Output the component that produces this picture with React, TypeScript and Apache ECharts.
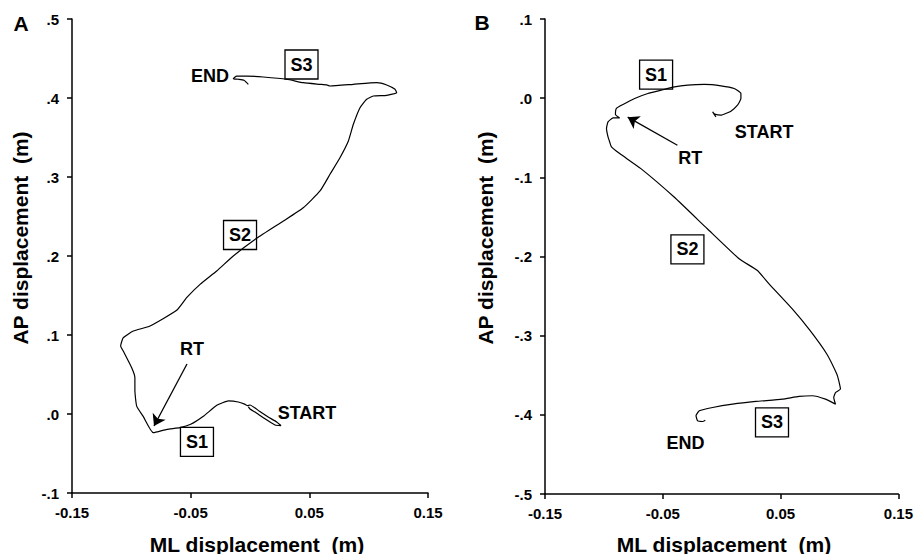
import { useEffect, useRef } from "react";
import * as echarts from "echarts";

// ---- Tick labels ----
const xTickValues = [-0.15, -0.05, 0.05, 0.15];

// ---- Panel A trajectory (ML, AP displacement in m) ----
const aML = [
  -0.0014, 0.0, 0.0042, 0.012, 0.0211, 0.0261, 0.0225, 0.015, 0.008, 0.0, -0.002, -0.0045, -0.0099,
  -0.018, -0.028, -0.039, -0.05, -0.059, -0.07, -0.0815, -0.09, -0.0955, -0.097, -0.097, -0.0997,
  -0.1068, -0.109, -0.1068, -0.0983, -0.0843, -0.0618, -0.0534, -0.0421, -0.0281, -0.0141, 0.0056,
  0.0281, 0.0449, 0.059, 0.0674, 0.0758, 0.0829, 0.0871, 0.0927, 0.0983, 0.1039, 0.1152, 0.1236,
  0.1222, 0.1152, 0.1068, 0.087, 0.0674, 0.0646, 0.059, 0.0449, 0.0309, 0.0112, -0.0028, -0.0112,
  -0.0141, -0.0099, -0.0051, -0.0014,
];
const aAP = [
  0.0089, 0.0063, 0.0025, -0.0055, -0.0139, -0.0146, -0.0101, -0.0035, 0.0035, 0.0114, 0.0105, 0.0125,
  0.0152, 0.0165, 0.011, -0.0025, -0.013, -0.0173, -0.0194, -0.0237, -0.003, 0.01, 0.03, 0.046,
  0.0586, 0.0797, 0.0861, 0.0966, 0.105, 0.1114, 0.1313, 0.1472, 0.1641, 0.181, 0.2, 0.2224,
  0.2443, 0.2611, 0.2823, 0.3034, 0.3244, 0.3456, 0.3667, 0.3877, 0.3984, 0.4025, 0.4034, 0.4068,
  0.411, 0.4165, 0.4194, 0.4173, 0.4152, 0.4165, 0.4173, 0.4194, 0.4237, 0.4266, 0.4278, 0.4278,
  0.4245, 0.4237, 0.4224, 0.4173,
];

// ---- Panel B trajectory ----
const bML = [
  -0.0049, -0.0077, -0.006, -0.0006, 0.004, 0.0078, 0.0134, 0.0163, 0.0163, 0.0106, -0.0006, -0.0147,
  -0.0289, -0.0401, -0.0514, -0.0627, -0.0739, -0.0838, -0.0894, -0.0902, -0.0866, -0.0922, -0.0965,
  -0.0978, -0.0965, -0.0951, -0.0936, -0.0866, -0.0686, -0.0404, -0.0122, 0.0148, 0.0303, 0.0402,
  0.0599, 0.0751, 0.0892, 0.0977, 0.0994, 0.1008, 0.0966, 0.0951, 0.0966, 0.0881, 0.0768,
  0.0656, 0.0514, 0.029, 0.0092, -0.0077, -0.019, -0.0218, -0.0204, -0.0162, -0.0139,
];
const bAP = [
  -0.0237, -0.0173, -0.02, -0.0215, -0.019, -0.0165, -0.0089, -0.0004, 0.0059, 0.0122, 0.0156, 0.0173,
  0.0165, 0.0143, 0.0101, 0.0059, -0.0004, -0.008, -0.013, -0.0206, -0.0249, -0.0249, -0.03,
  -0.0384, -0.049, -0.0553, -0.0616, -0.07, -0.089, -0.1249, -0.165, -0.2029, -0.2177, -0.2346,
  -0.2662, -0.2937, -0.3232, -0.3485, -0.357, -0.3675, -0.3718, -0.3781, -0.3865, -0.3802, -0.3759,
  -0.3768, -0.3802, -0.3831, -0.3865, -0.3907, -0.3949, -0.4013, -0.4076, -0.4084, -0.4068,
];

// ---- Annotations (data coordinates) ----
const aNoteText = ["END", "S3", "S2", "RT", "START", "S1"];
const aNoteML = [-0.0337, 0.0434, -0.0084, -0.0489, 0.048, -0.0447];
const aNoteAP = [0.4278, 0.4424, 0.2266, 0.0823, 0.0013, -0.0354];
const aNoteBoxed = [false, true, true, false, false, true];
const aArrow = [[-0.0531, 0.0633], [-0.0809, -0.0152]];

const bNoteText = ["S1", "START", "RT", "S2", "S3", "END"];
const bNoteML = [-0.0557, 0.036, -0.0266, -0.0291, 0.0427, -0.0308];
const bNoteAP = [0.0297, -0.043, -0.0759, -0.1911, -0.4095, -0.4354];
const bNoteBoxed = [true, false, false, true, true, false];
const bArrow = [[-0.0376, -0.0595], [-0.0798, -0.024]];

const FONT = "'Liberation Sans', Arial, Helvetica, sans-serif";

const fmtY = (v: number) => {
  if (Math.abs(v) < 1e-9) return ".0";
  return v.toFixed(1).replace(/^(-?)0\./, "$1.");
};
const fmtX = (v: number) => v.toFixed(2);

function pairs(xs: number[], ys: number[]) {
  return xs.map((x, i) => [x, ys[i]]);
}

function makeX(gridIndex: number) {
  return {
    type: "value",
    gridIndex,
    min: -0.15,
    max: 0.15,
    splitLine: { show: false },
    axisLine: { onZero: false, lineStyle: { color: "#000", width: 1.5 } },
    axisTick: { customValues: xTickValues, length: 5, lineStyle: { color: "#000", width: 1.5 } },
    axisLabel: {
      customValues: xTickValues,
      formatter: fmtX,
      color: "#000",
      fontWeight: "bold",
      fontSize: 15,
      fontFamily: FONT,
      margin: 12,
    },
  };
}

function makeY(gridIndex: number, min: number, max: number) {
  return {
    type: "value",
    gridIndex,
    min,
    max,
    interval: 0.1,
    splitLine: { show: false },
    axisLine: { show: true, onZero: false, lineStyle: { color: "#000", width: 1.5 } },
    axisTick: { show: true, length: 5, lineStyle: { color: "#000", width: 1.5 } },
    axisLabel: {
      formatter: fmtY,
      color: "#000",
      fontWeight: "bold",
      fontSize: 15,
      fontFamily: FONT,
      margin: 13,
    },
  };
}

function arrowLine(arrow: number[][]) {
  return {
    silent: true,
    symbol: ["none", "arrow"],
    symbolSize: 11,
    label: { show: false },
    lineStyle: { color: "#000", width: 1.3, type: "solid" },
    emphasis: { disabled: true },
    data: [[{ coord: arrow[0] }, { coord: arrow[1] }]],
  };
}

export default function App() {
  const ref = useRef<HTMLDivElement>(null);

  useEffect(() => {
    if (!ref.current) return;
    const chart = echarts.init(ref.current, undefined, { renderer: "svg" });
    chart.setOption({
      animation: false,
      backgroundColor: "#fff",
      grid: [
        { left: 72, top: 19, width: 356, height: 474 },
        { left: 545, top: 19, width: 355, height: 475 },
      ],
      xAxis: [makeX(0), makeX(1)],
      yAxis: [makeY(0, -0.1, 0.5), makeY(1, -0.5, 0.1)],
      series: [
        {
          type: "line",
          xAxisIndex: 0,
          yAxisIndex: 0,
          data: pairs(aML, aAP),
          showSymbol: false,
          smooth: 0.15,
          lineStyle: { color: "#000", width: 1.2 },
          markLine: arrowLine(aArrow),
        },
        {
          type: "line",
          xAxisIndex: 1,
          yAxisIndex: 1,
          data: pairs(bML, bAP),
          showSymbol: false,
          smooth: 0.15,
          lineStyle: { color: "#000", width: 1.2 },
          markLine: arrowLine(bArrow),
        },
      ],
    });

    const graphics: any[] = [];
    const titleStyle = { fill: "#000", font: `bold 21px ${FONT}`, align: "center", verticalAlign: "middle" };
    graphics.push({ type: "text", x: 21, y: 23, style: { ...titleStyle, text: "A" } });
    graphics.push({ type: "text", x: 482, y: 22, style: { ...titleStyle, text: "B" } });
    graphics.push({ type: "text", x: 257, y: 544, style: { ...titleStyle, text: "ML displacement  (m)" } });
    graphics.push({ type: "text", x: 724, y: 544, style: { ...titleStyle, text: "ML displacement  (m)" } });
    graphics.push({ type: "text", x: 20, y: 238, rotation: Math.PI / 2, style: { ...titleStyle, text: "AP displacement  (m)" } });
    graphics.push({ type: "text", x: 485, y: 238, rotation: Math.PI / 2, style: { ...titleStyle, text: "AP displacement  (m)" } });

    const addNotes = (gridIndex: number, texts: string[], xs: number[], ys: number[], boxed: boolean[]) => {
      texts.forEach((t, i) => {
        const p = chart.convertToPixel({ gridIndex }, [xs[i], ys[i]]) as number[];
        if (boxed[i]) {
          graphics.push({
            type: "rect",
            shape: { x: p[0] - 16.5, y: p[1] - 14.5, width: 33, height: 29 },
            style: { fill: "none", stroke: "#000", lineWidth: 1.3 },
          });
        }
        graphics.push({
          type: "text",
          x: p[0],
          y: p[1],
          style: { text: t, fill: "#000", font: `bold 18px ${FONT}`, align: "center", verticalAlign: "middle" },
        });
      });
    };
    addNotes(0, aNoteText, aNoteML, aNoteAP, aNoteBoxed);
    addNotes(1, bNoteText, bNoteML, bNoteAP, bNoteBoxed);

    chart.setOption({ graphic: graphics });

    return () => chart.dispose();
  }, []);

  return (
    <div
      ref={ref}
      style={{ position: "fixed", left: 0, top: 0, width: 916, height: 554, background: "#fff" }}
    />
  );
}
